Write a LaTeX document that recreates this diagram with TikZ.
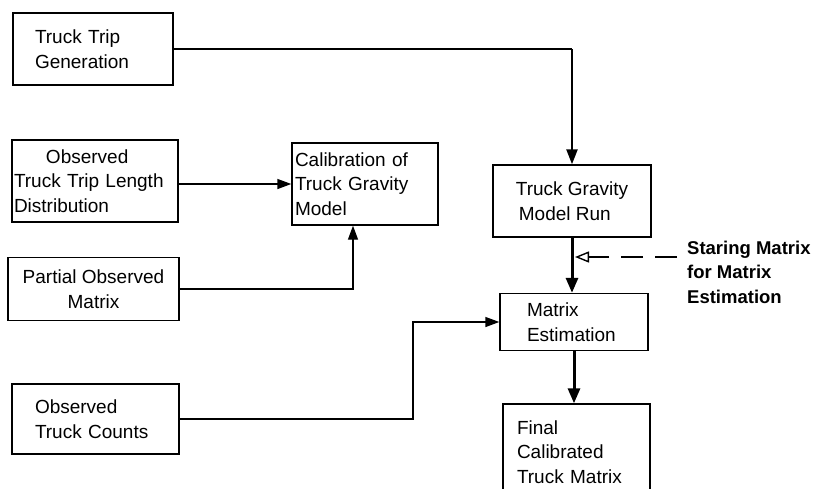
\documentclass[tikz,border=0pt]{standalone}
\usepackage{fontspec}
\setmainfont{Liberation Sans}
\usetikzlibrary{arrows.meta,calc}
\begin{document}
\begin{tikzpicture}[x=1pt,y=-1pt,
  box/.style={draw, line width=1.4pt, rectangle, inner sep=0pt, align=left,
    font=\fontsize{19}{24.5}\selectfont},
  conn/.style={line width=1.4pt, -{Triangle[length=14pt,width=10pt]}},
  thickconn/.style={line width=3pt, -{Triangle[length=15pt,width=12pt]}},
  dashconn/.style={line width=1.6pt, dash pattern=on 22pt off 12pt,
    -{Triangle[open,length=14pt,width=11pt,line width=1.4pt]}},
  lbl/.style={font=\bfseries\fontsize{18.5}{24.5}\selectfont, align=left, inner sep=0pt}]
\clip (0,0) rectangle (823,488);
\fill[white] (0,0) rectangle (823,488);
% boxes
\node[box, minimum width=160pt, minimum height=72pt, text width=116pt] (b1) at (93,49) {Truck Trip\\Generation};
\node[box, minimum width=166pt, minimum height=82pt, text width=162pt] (b2) at (95,181) {\hspace*{32pt}Observed\\Truck Trip Length\\Distribution};
\node[box, minimum width=146pt, minimum height=82pt, text width=140pt] (b3) at (365,184) {Calibration of\\Truck Gravity\\Model};
\node[box, minimum width=171pt, minimum height=63pt, align=center] (b4) at (93.5,289) {Partial Observed\\Matrix};
\node[box, minimum width=167pt, minimum height=70pt, text width=121pt] (b5) at (95.5,419) {Observed\\Truck Counts};
\node[box, minimum width=158pt, minimum height=72pt] (b6) at (572,201) {Truck Gravity\\\hspace*{3pt}Model Run};
\node[box, minimum width=148pt, minimum height=57pt, text width=94pt] (b7) at (574,322) {Matrix\\Estimation};
\node[box, minimum width=147pt, minimum height=96pt, text width=119pt] (b8) at (576.5,452) {Final\\Calibrated\\Truck Matrix};
\node[lbl, anchor=west] (lab) at (687,272) {Staring Matrix\\for Matrix\\Estimation};
% helper coordinates
\coordinate (j1) at (413,0);
\coordinate (j2) at (353,0);
\coordinate (ds) at (677,257);
% connectors
\draw[line width=1.4pt] (b1.east) -- (b1.east -| b6.north);
\draw[line width=2.4pt, -{Triangle[length=15pt,width=11pt]}] (b1.east -| b6.north) -- (b6.north);
\draw[conn] (b3.west -| b2.east) -- (b3.west);
\draw[conn] (b4.east) -| (j2 |- b3.south);
\draw[conn] (b5.east) -| (j1 |- b7.west) -- (b7.west);
\draw[thickconn] (b6.south) -- (b6.south |- b7.north);
\draw[thickconn] (b7.south) -- (b7.south |- b8.north);
\draw[dashconn] (ds) -- ($(ds -| b6.south)+(3,0)$);
\end{tikzpicture}
\end{document}
